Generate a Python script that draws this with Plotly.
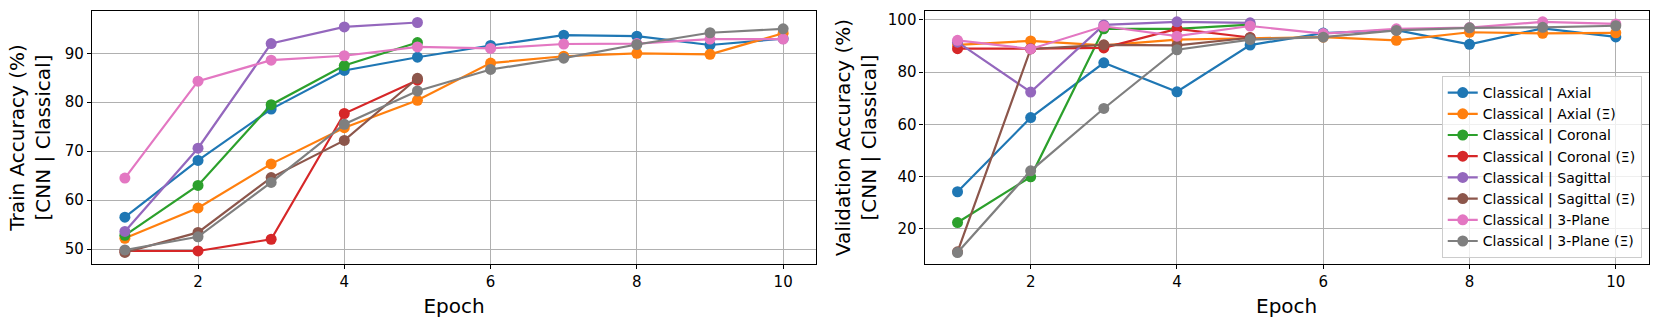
import plotly.graph_objects as go

epochs = [1, 2, 3, 4, 5, 6, 7, 8, 9, 10]

names = ["Classical | Axial", "Classical | Axial (Ξ)", "Classical | Coronal",
         "Classical | Coronal (Ξ)", "Classical | Sagittal", "Classical | Sagittal (Ξ)",
         "Classical | 3-Plane", "Classical | 3-Plane (Ξ)"]
colors = ["#1f77b4", "#ff7f0e", "#2ca02c", "#d62728", "#9467bd", "#8c564b", "#e377c2", "#7f7f7f"]

train_axial = [56.5, 68.1, 78.6, 86.5, 89.2, 91.6, 93.7, 93.5, 91.7, 93.0]
train_axial_xi = [52.2, 58.4, 67.4, 74.8, 80.4, 88.0, 89.4, 90.0, 89.8, 94.1]
train_coronal = [52.8, 63.0, 79.5, 87.5, 92.2]
train_coronal_xi = [49.6, 49.6, 52.0, 77.7, 84.5]
train_sagittal = [53.6, 70.6, 92.0, 95.4, 96.3]
train_sagittal_xi = [49.3, 53.4, 64.6, 72.2, 84.9]
train_3plane = [64.5, 84.3, 88.6, 89.5, 91.3, 91.0, 91.9, 92.0, 92.9, 92.9]
train_3plane_xi = [49.8, 52.5, 63.6, 75.5, 82.3, 86.7, 89.0, 91.8, 94.2, 95.0]

val_axial = [34.2, 62.6, 83.6, 72.5, 90.4, 95.0, 96.1, 90.7, 96.8, 93.5]
val_axial_xi = [90.5, 92.0, 90.3, 92.5, 93.0, 93.4, 92.2, 95.3, 94.9, 95.1]
val_coronal = [22.4, 39.9, 96.6, 96.6, 98.2]
val_coronal_xi = [89.0, 89.0, 89.3, 96.6, 93.3]
val_sagittal = [91.5, 72.4, 98.1, 99.3, 98.9]
val_sagittal_xi = [11.2, 88.9, 90.5, 90.3, 93.2]
val_3plane = [92.2, 88.9, 97.6, 93.8, 97.7, 94.8, 96.6, 97.1, 99.3, 98.5]
val_3plane_xi = [10.9, 42.2, 66.1, 88.6, 92.5, 93.4, 96.0, 97.0, 97.2, 97.8]

train = [train_axial, train_axial_xi, train_coronal, train_coronal_xi,
         train_sagittal, train_sagittal_xi, train_3plane, train_3plane_xi]
val = [val_axial, val_axial_xi, val_coronal, val_coronal_xi,
       val_sagittal, val_sagittal_xi, val_3plane, val_3plane_xi]

FONT = "DejaVu Sans"
fig = go.Figure()

for i, (n, c) in enumerate(zip(names, colors)):
    fig.add_trace(go.Scatter(x=epochs[:len(train[i])], y=train[i], mode="lines+markers",
                             name=n, line=dict(color=c, width=2.2),
                             marker=dict(color=c, size=11), showlegend=False,
                             xaxis="x", yaxis="y"))
for i, (n, c) in enumerate(zip(names, colors)):
    fig.add_trace(go.Scatter(x=epochs[:len(val[i])], y=val[i], mode="lines+markers",
                             name=n, line=dict(color=c, width=2.2),
                             marker=dict(color=c, size=11), showlegend=True,
                             xaxis="x2", yaxis="y2"))

axcommon = dict(showline=True, linecolor="black", linewidth=1.3, mirror=True,
                ticks="outside", ticklen=4, tickcolor="black", showgrid=True,
                gridcolor="#b0b0b0", gridwidth=1, zeroline=False,
                tickfont=dict(family=FONT, size=15, color="black"),
                automargin=False)

fig.update_layout(
    width=1660, height=328,
    margin=dict(l=0, r=0, t=0, b=0),
    plot_bgcolor="white", paper_bgcolor="white",
    font=dict(family=FONT, color="black"),
    xaxis=dict(domain=[0.0554, 0.4916], range=[0.55, 10.45], dtick=2, tick0=0,
               title=dict(text="Epoch", font=dict(family=FONT, size=20), standoff=8),
               anchor="y", **axcommon),
    yaxis=dict(domain=[0.195, 0.9665], range=[46.93, 98.65], dtick=10,
               title=dict(text="Train Accuracy (%)<br>[CNN | Classical]",
                          font=dict(family=FONT, size=20), standoff=8),
               anchor="x", **axcommon),
    xaxis2=dict(domain=[0.557, 0.9932], range=[0.55, 10.45], dtick=2, tick0=0,
                title=dict(text="Epoch", font=dict(family=FONT, size=20), standoff=8),
                anchor="y2", **axcommon),
    yaxis2=dict(domain=[0.195, 0.9665], range=[6.5, 103.45], dtick=20,
                title=dict(text="Validation Accuracy (%)<br>[CNN | Classical]",
                           font=dict(family=FONT, size=20), standoff=5),
                anchor="x2", **axcommon),
    legend=dict(x=0.989, y=0.2134, xanchor="right", yanchor="bottom",
                bgcolor="rgba(255,255,255,0.8)", bordercolor="#cccccc", borderwidth=1,
                font=dict(family=FONT, size=14, color="black"), itemwidth=30,
                tracegroupgap=0),
)

fig.write_html("out.html", config={"displayModeBar": False},
               post_script="document.body.style.margin='0';document.body.style.overflow='hidden';")
